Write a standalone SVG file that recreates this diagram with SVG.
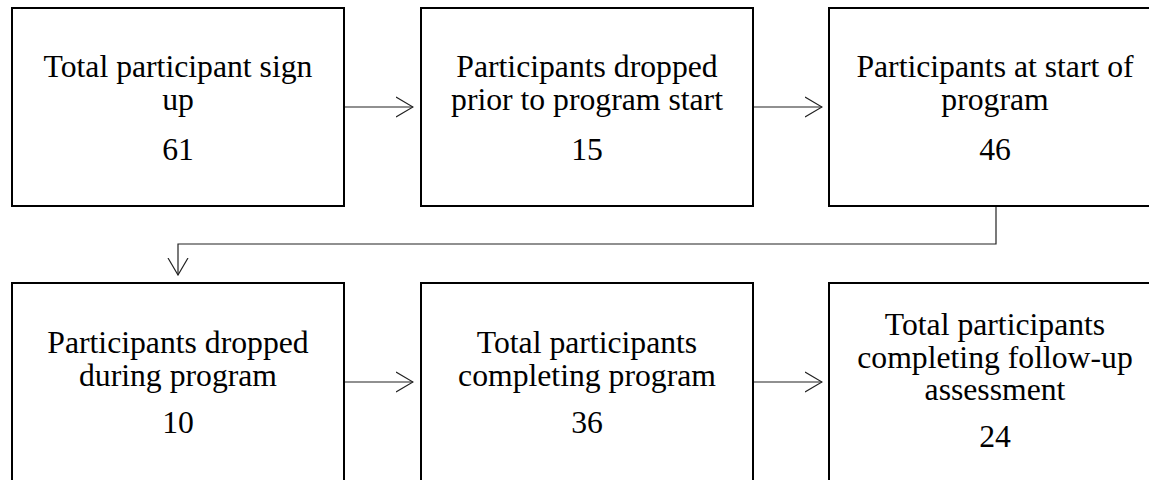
<svg xmlns="http://www.w3.org/2000/svg" width="1149" height="480" viewBox="0 0 1149 480">
<style>
.box{fill:#fff;stroke:#000;stroke-width:2}
.t{font-family:"Liberation Serif","Times New Roman",serif;font-size:31.7px;fill:#000;text-anchor:middle}
.c{fill:none;stroke:#222;stroke-width:1.2}
</style>
<defs>
<marker id="ah" viewBox="0 0 18 22" refX="17" refY="11" markerWidth="18" markerHeight="22" markerUnits="userSpaceOnUse" orient="auto">
<path d="M0,1 L17,11 L0,21" fill="none" stroke="#222" stroke-width="1.2"/>
</marker>
</defs>
<rect width="1149" height="480" fill="#fff"/>
<g id="n1"><rect class="box" x="12" y="8" width="332" height="198"/>
<text class="t" x="178" y="77">Total participant sign</text><text class="t" x="178" y="110">up</text><text class="t" x="178" y="160">61</text></g>
<g id="n2"><rect class="box" x="421" y="8" width="332" height="198"/>
<text class="t" x="587" y="77">Participants dropped</text><text class="t" x="587" y="110">prior to program start</text><text class="t" x="587" y="160">15</text></g>
<g id="n3"><rect class="box" x="829" y="8" width="340" height="198"/>
<text class="t" x="995" y="77">Participants at start of</text><text class="t" x="995" y="110">program</text><text class="t" x="995" y="160">46</text></g>
<g id="n4"><rect class="box" x="12" y="283" width="332" height="210"/>
<text class="t" x="178" y="353">Participants dropped</text><text class="t" x="178" y="386">during program</text><text class="t" x="178" y="433">10</text></g>
<g id="n5"><rect class="box" x="421" y="283" width="332" height="210"/>
<text class="t" x="587" y="353">Total participants</text><text class="t" x="587" y="386">completing program</text><text class="t" x="587" y="433">36</text></g>
<g id="n6"><rect class="box" x="829" y="283" width="340" height="210"/>
<text class="t" x="995" y="335">Total participants</text><text class="t" x="995" y="368">completing follow-up</text><text class="t" x="995" y="400">assessment</text><text class="t" x="995" y="447">24</text></g>
<g id="connectors">
<path class="c" d="M345,107 H413" marker-end="url(#ah)"/>
<path class="c" d="M754,107 H822" marker-end="url(#ah)"/>
<path class="c" d="M996,207 V244 H178 V275" marker-end="url(#ah)"/>
<path class="c" d="M345,382 H413" marker-end="url(#ah)"/>
<path class="c" d="M754,382 H822" marker-end="url(#ah)"/>
</g>
</svg>
